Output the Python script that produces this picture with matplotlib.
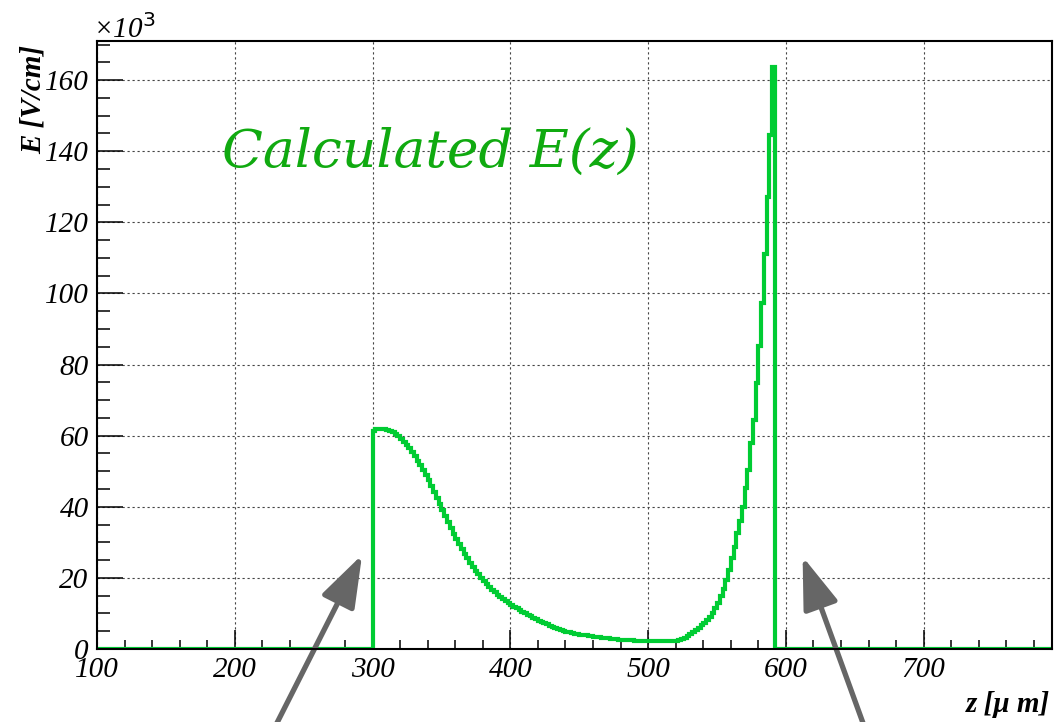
import matplotlib.pyplot as plt
from matplotlib.ticker import MultipleLocator

# ── Data ──────────────────────────────────────────────────────────────────────

# E field in units of 10^3 V/cm, one value per 2 um bin starting at 300 um
z_start = 300
bin_width = 2
e_field = [
    61.4, 61.8, 62.0, 62.0, 61.9, 61.6, 61.3, 60.9, 60.4, 59.8,
    59.1, 58.3, 57.4, 56.4, 55.4, 54.3, 53.0, 51.7, 50.3, 48.9,
    47.4, 45.8, 44.2, 42.5, 40.8, 39.1, 37.4, 35.7, 34.0, 32.4,
    30.9, 29.5, 28.1, 26.8, 25.5, 24.3, 23.1, 22.0, 21.0, 20.0,
    19.1, 18.2, 17.4, 16.6, 15.9, 15.2, 14.6, 14.0, 13.4, 12.9,
    12.4, 11.9, 11.4, 10.9, 10.4, 10.0, 9.6, 9.2, 8.8, 8.4,
    8.0, 7.6, 7.2, 6.9, 6.5, 6.2, 5.9, 5.6, 5.4, 5.2,
    4.9, 4.7, 4.5, 4.3, 4.2, 4.0, 3.9, 3.8, 3.7, 3.6,
    3.5, 3.4, 3.3, 3.2, 3.1, 3.0, 2.9, 2.8, 2.7, 2.6,
    2.5, 2.5, 2.4, 2.4, 2.4, 2.3, 2.3, 2.3, 2.3, 2.2,
    2.2, 2.2, 2.2, 2.2, 2.2, 2.2, 2.2, 2.2, 2.2, 2.2,
    # rising edge towards the back side
    2.2, 2.4, 2.7, 3.0, 3.6, 4.2, 4.8, 5.4, 6.0, 6.7,
    7.4, 8.2, 9.1, 10.0, 11.4, 13.0, 14.8, 17.0, 19.5, 22.3,
    25.5, 28.8, 32.5, 36.0, 39.8, 45.2, 50.4, 57.9, 64.5, 74.8,
    85.2, 97.4, 111.2, 127.0, 144.5, 163.6,
]

z_range = (100, 793)
e_range = (0, 171)

# arrows: (tip z, tip E), (tail z, tail E)
arrow_tips = [(292.4, 26.5), (612.1, 26.0)]
arrow_tails = [(224.2, -25.7), (660.5, -25.7)]

title_text = "Calculated E(z)"

# ── Plot ──────────────────────────────────────────────────────────────────────

line_green = "#00cc33"
text_green = "#10aa10"
serif = "Liberation Serif"

fig = plt.figure(figsize=(10.58, 7.22), dpi=100)
ax = fig.add_axes([0.0917, 0.1011, 0.9025, 0.8421])

n = len(e_field)
edges = [z_range[0]] + [z_start + i * bin_width for i in range(n + 1)] + [z_range[1]]
values = [0.0] + e_field + [0.0]
ax.stairs(values, edges, color=line_green, linewidth=3.0, baseline=None, zorder=3)

ax.set_xlim(*z_range)
ax.set_ylim(*e_range)

ax.xaxis.set_major_locator(MultipleLocator(100))
ax.xaxis.set_minor_locator(MultipleLocator(20))
ax.yaxis.set_major_locator(MultipleLocator(20))
ax.yaxis.set_minor_locator(MultipleLocator(5))

ax.grid(True, which="major", color="#444444", linestyle=(0, (2, 2.5)), linewidth=0.8)
ax.set_axisbelow(True)

ax.tick_params(axis="x", which="major", direction="in", length=13.5, width=1.1, pad=6)
ax.tick_params(axis="x", which="minor", direction="in", length=6.5, width=1.1)
ax.tick_params(axis="y", which="major", direction="in", length=18.5, width=1.1, pad=6)
ax.tick_params(axis="y", which="minor", direction="in", length=9.5, width=1.1)
for lab in ax.get_xticklabels() + ax.get_yticklabels():
    lab.set_fontfamily(serif)
    lab.set_fontstyle("italic")
    lab.set_fontsize(21)

for sp in ax.spines.values():
    sp.set_linewidth(1.5)
    sp.set_zorder(4)

for tip, tail in zip(arrow_tips, arrow_tails):
    ax.annotate("", xy=tip, xytext=tail, annotation_clip=False,
                arrowprops=dict(arrowstyle="-|>,head_length=3.2,head_width=1.1",
                                color="#666666", lw=3.8, shrinkA=0, shrinkB=0))

ax.text(191, 135.5, title_text, color=text_green, fontsize=38.5,
        family="DejaVu Serif", style="italic", ha="left", va="baseline")

fig.text(33 / 1058, 1 - 45 / 722, "E [V/cm]", rotation=90, ha="center", va="top",
         family=serif, style="italic", weight="bold", fontsize=21)
fig.text(1050 / 1058, 1 - 705 / 722, "z [\u03bc m]", ha="right", va="center",
         family=serif, style="italic", weight="bold", fontsize=21)
fig.text(93 / 1058, 1 - 38 / 722, "\u00d710$^{3}$", ha="left", va="baseline",
         family=serif, style="italic", fontsize=21)

fig.savefig("out.png", dpi=100)
